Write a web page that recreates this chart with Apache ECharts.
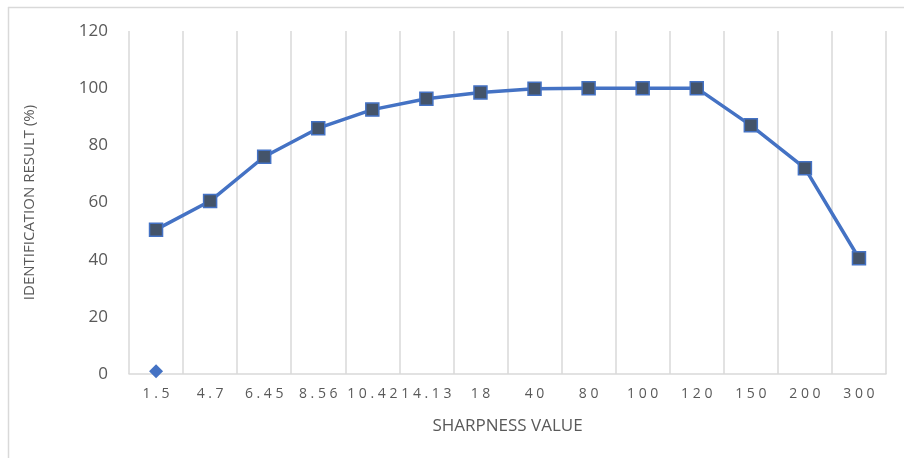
<!DOCTYPE html>
<html>
<head>
<meta charset="utf-8">
<script src="https://cdn.jsdelivr.net/npm/echarts@6/dist/echarts.min.js"></script>
<style>
  html, body { margin: 0; padding: 0; background: #fff; }
  #chart { width: 904px; height: 458px; }
</style>
</head>
<body>
<div id="chart"></div>
<script>
const categories = ["1.5", "4.7", "6.45", "8.56", "10.42", "14.13", "18", "40", "80", "100", "120", "150", "200", "300"];
const resultValues = [50.5, 60.5, 76, 86, 92.5, 96.3, 98.5, 99.8, 100, 100, 100, 87, 72, 40.5];
const markerValues = [1, null, null, null, null, null, null, null, null, null, null, null, null, null];

const textColor = "#595959";
const font = "'Open Sans', 'Liberation Sans', sans-serif";

const chart = echarts.init(document.getElementById("chart"));
chart.setOption({
  animation: false,
  backgroundColor: "#fff",
  graphic: [
    { type: "line", shape: { x1: 8, y1: 7.5, x2: 904, y2: 7.5 }, style: { stroke: "#d9d9d9", lineWidth: 1.5 } },
    { type: "line", shape: { x1: 8.5, y1: 7, x2: 8.5, y2: 458 }, style: { stroke: "#d9d9d9", lineWidth: 1.5 } }
  ],
  grid: { left: 129, right: 18, top: 31, bottom: 84 },
  xAxis: {
    type: "category",
    data: categories,
    boundaryGap: true,
    name: "SHARPNESS VALUE",
    nameLocation: "middle",
    nameGap: 44,
    nameTextStyle: { color: textColor, fontSize: 17, fontFamily: font },
    axisLine: { lineStyle: { color: "#d9d9d9", width: 1.5 } },
    axisTick: { show: false },
    splitLine: { show: true, interval: 0, lineStyle: { color: "#d9d9d9", width: 1.5 } },
    axisLabel: {
      interval: 0,
      margin: 13,
      color: textColor,
      fontSize: 14,
      fontFamily: font,
      formatter: v => v.split("").join(" ")
    }
  },
  yAxis: {
    type: "value",
    min: 0,
    max: 120,
    interval: 20,
    name: "IDENTIFICATION RESULT (%)",
    nameLocation: "middle",
    nameGap: 92,
    nameTextStyle: { color: textColor, fontSize: 15, fontFamily: font },
    axisLine: { show: false },
    axisTick: { show: false },
    splitLine: { show: false },
    axisLabel: { margin: 21, color: textColor, fontSize: 17, fontFamily: font }
  },
  series: [
    {
      type: "line",
      data: resultValues,
      symbol: "rect",
      symbolSize: 13,
      lineStyle: { color: "#4472C4", width: 3.5 },
      itemStyle: { color: "#44546A", borderColor: "#4472C4", borderWidth: 1.5 },
      z: 3
    },
    {
      type: "scatter",
      data: markerValues,
      symbol: "diamond",
      symbolSize: 14,
      itemStyle: { color: "#4472C4", opacity: 1 }
    }
  ]
});
</script>
</body>
</html>
